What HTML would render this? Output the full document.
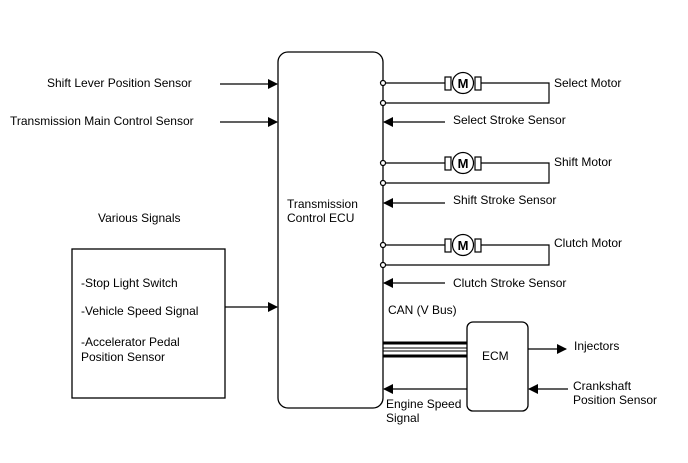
<!DOCTYPE html>
<html><head><style>body{margin:0;background:#fff}svg{display:block}text{font-family:"Liberation Sans",sans-serif;font-size:12px;fill:#000}</style></head><body>
<svg width="688" height="463" viewBox="0 0 688 463" xmlns="http://www.w3.org/2000/svg">
<defs><marker id="a" markerWidth="10" markerHeight="10" refX="9" refY="5" orient="auto" markerUnits="userSpaceOnUse"><path d="M0,0 L10,5 L0,10 z" fill="#000"/></marker></defs>
<g stroke="#000" stroke-width="1.3" fill="none">
<rect x="278" y="52" width="105" height="356" rx="10"/>
<rect x="467" y="322" width="61" height="89" rx="6"/>
<rect x="72" y="249" width="153" height="149"/>
<line x1="220" y1="84" x2="277" y2="84" marker-end="url(#a)"/>
<line x1="220" y1="122" x2="277" y2="122" marker-end="url(#a)"/>
<line x1="225" y1="307" x2="277" y2="307" marker-end="url(#a)"/>
<line x1="445" y1="122" x2="384" y2="122" marker-end="url(#a)"/>
<line x1="445" y1="203" x2="384" y2="203" marker-end="url(#a)"/>
<line x1="445" y1="283" x2="384" y2="283" marker-end="url(#a)"/>
<line x1="467" y1="389" x2="384" y2="389" marker-end="url(#a)"/>
<line x1="528" y1="349" x2="566" y2="349" marker-end="url(#a)"/>
<line x1="568" y1="389" x2="529" y2="389" marker-end="url(#a)"/>
</g>
<g stroke="#000" fill="none">
<line x1="383" y1="343" x2="467" y2="343" stroke-width="3"/>
<line x1="383" y1="348" x2="467" y2="348" stroke-width="1"/>
<line x1="383" y1="351" x2="467" y2="351" stroke-width="1"/>
<line x1="383" y1="356" x2="467" y2="356" stroke-width="3"/>
</g>
<g id="m" stroke="#000" stroke-width="1.2" fill="none">
<path d="M383,83 H445 M481,83 H549 V103 H383"/>
<rect x="445" y="77" width="6" height="13" fill="#fff"/>
<rect x="475" y="77" width="6" height="13" fill="#fff"/>
<circle cx="463" cy="83" r="10.5" fill="#fff"/>
<circle cx="383" cy="83" r="2.5" fill="#fff"/>
<circle cx="383" cy="103" r="2.5" fill="#fff"/>
</g>
<use href="#m" transform="translate(0,80)"/>
<use href="#m" transform="translate(0,162)"/>
<g style="font-weight:bold;font-size:13px" text-anchor="middle">
<text x="463" y="88" style="font-size:13px">M</text>
<text x="463" y="168" style="font-size:13px">M</text>
<text x="463" y="250" style="font-size:13px">M</text>
</g>
<text x="47" y="87">Shift Lever Position Sensor</text>
<text x="10" y="125">Transmission Main Control Sensor</text>
<text x="98" y="222">Various Signals</text>
<text x="81" y="287">-Stop Light Switch</text>
<text x="81" y="315">-Vehicle Speed Signal</text>
<text x="81" y="346">-Accelerator Pedal</text>
<text x="81" y="361">Position Sensor</text>
<text x="287" y="208">Transmission</text>
<text x="287" y="222">Control ECU</text>
<text x="554" y="87">Select Motor</text>
<text x="453" y="124">Select Stroke Sensor</text>
<text x="554" y="166">Shift Motor</text>
<text x="453" y="204">Shift Stroke Sensor</text>
<text x="554" y="247">Clutch Motor</text>
<text x="453" y="287">Clutch Stroke Sensor</text>
<text x="388" y="314">CAN (V Bus)</text>
<text x="482" y="360">ECM</text>
<text x="574" y="350">Injectors</text>
<text x="573" y="390">Crankshaft</text>
<text x="573" y="404">Position Sensor</text>
<text x="386" y="408">Engine Speed</text>
<text x="386" y="422">Signal</text>
</svg>
</body></html>
